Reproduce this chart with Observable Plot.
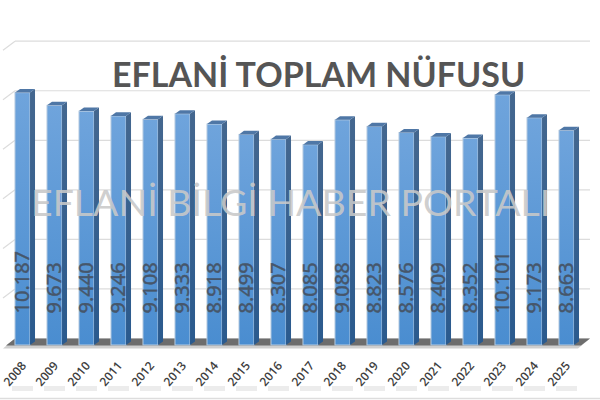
<!DOCTYPE html>
<html>
<head>
<meta charset="utf-8">
<script src="https://cdn.jsdelivr.net/npm/d3@7"></script>
<script src="https://cdn.jsdelivr.net/npm/@observablehq/plot@0.6"></script>
<style>
html,body{margin:0;padding:0;background:#fff}
svg{display:block}
</style>
</head>
<body>
<div id="chart"></div>
<script>
const years = ["2008","2009","2010","2011","2012","2013","2014","2015","2016","2017","2018","2019","2020","2021","2022","2023","2024","2025"];
const population = [10187,9673,9440,9246,9108,9333,8918,8499,8307,8085,9088,8823,8576,8409,8352,10101,9173,8663];
const gridValues = [2000,4000,6000,8000,10000,12000];
const titleText = "EFLANİ TOPLAM NÜFUSU";
const watermarkText = "EFLANİ BİLGİ HABER PORTALI";

const rows = years.map((year, i) => ({year, value: population[i]}));
const fmt = v => d3.format(",")(v).replace(",", ".");
const ns = "http://www.w3.org/2000/svg";

function poly(parent, pts, fill) {
  const p = document.createElementNS(ns, "polygon");
  p.setAttribute("points", pts.map(d => d.join(",")).join(" "));
  p.setAttribute("fill", fill);
  p.setAttribute("stroke", "none");
  parent.appendChild(p);
}

// depth faces of each bar, derived from the rects Plot drew
function render3d(index, scales, values, dimensions, context, next) {
  const g = next(index, scales, values, dimensions, context);
  const dx = 5, dy = -3.6;
  g.querySelectorAll("rect").forEach(r => {
    const x = +r.getAttribute("x"), y = +r.getAttribute("y"),
          w = +r.getAttribute("width"), h = +r.getAttribute("height");
    poly(g, [[x + w, y], [x + w + dx, y + dy], [x + w + dx, y + h + dy], [x + w, y + h]], "url(#sideGrad)");
    poly(g, [[x, y], [x + dx, y + dy], [x + w + dx, y + dy], [x + w, y]], "#4f77a6");
  });
  return g;
}

// back-wall lines with their short diagonal on the left side wall
function renderGrid(index, scales, values, dimensions, context, next) {
  const g = next(index, scales, values, dimensions, context);
  g.querySelectorAll("line").forEach(l => {
    const x = +l.getAttribute("x1"), y = +l.getAttribute("y1");
    const d = document.createElementNS(ns, "line");
    d.setAttribute("x1", x); d.setAttribute("y1", y);
    d.setAttribute("x2", x - 12); d.setAttribute("y2", y + 9);
    g.appendChild(d);
  });
  return g;
}

// floor plane, hung off the zero rule
function renderFloor(index, scales, values, dimensions, context, next) {
  const g = next(index, scales, values, dimensions, context);
  const l = g.querySelector("line");
  const x1 = +l.getAttribute("x1"), x2 = +l.getAttribute("x2"), y = +l.getAttribute("y1");
  l.remove();
  poly(g, [[x1 + 12, y - 7], [x2 + 12, y - 7], [x2, y + 3], [x1, y + 3]], "#cfcfcf");
  poly(g, [[x1 + 12, y - 7], [x2 + 12, y - 7], [x2 + 3, y], [x1 + 3, y]], "#6d6d6d");
  return g;
}

const defs = () => {
  const d = d3.create("svg:defs");
  const grad = (id, top, bottom) => {
    const lg = d.append("linearGradient").attr("id", id).attr("x1", 0).attr("y1", 0).attr("x2", 0).attr("y2", 1);
    lg.append("stop").attr("offset", "0%").attr("stop-color", top);
    lg.append("stop").attr("offset", "100%").attr("stop-color", bottom);
  };
  grad("barGrad", "#6fa4dc", "#4a8dd0");
  grad("sideGrad", "#44678f", "#2a5a8e");
  d.append("filter").attr("id", "soft").attr("x", "-10%").attr("y", "-300%").attr("width", "120%").attr("height", "700%")
    .append("feGaussianBlur").attr("stdDeviation", 1.8);
  d.append("filter").attr("id", "softer").append("feGaussianBlur").attr("stdDeviation", 0.35);
  return d.node();
};

const chart = Plot.plot({
  width: 600,
  height: 400,
  marginLeft: 6.5,
  marginRight: 17.5,
  marginTop: 47.7,
  marginBottom: 55,
  style: {background: "#fff", overflow: "visible"},
  x: {type: "band", domain: years, paddingInner: 0.53, paddingOuter: 0.265, align: 0.5, round: false, axis: null},
  y: {domain: [0, 12000], axis: null},
  marks: [
    defs,
    Plot.ruleY(gridValues, {
      stroke: "#dcdcdc", strokeWidth: 1.2, dy: -7,
      insetLeft: 8.5, insetRight: -7.5, render: renderGrid
    }),
    Plot.ruleY([0], {render: renderFloor, insetLeft: -3.5, insetRight: 4.5}),
    Plot.barY(rows, {
      x: "year", y: "value", fill: "url(#barGrad)",
      stroke: "#b7cbe0", strokeWidth: 1, render: render3d
    }),
    Plot.text(rows, {
      x: "year", y: () => 0, text: d => fmt(d.value), rotate: -90, textAnchor: "start",
      dy: -32, fill: "#46566a", stroke: "#46566a", strokeWidth: 0.4, fontSize: 20, fontFamily: "Noto Sans",
      style: {filter: "url(#softer)"}
    }),
    Plot.tickY(years, {
      x: d => d, y: () => 0, dy: 43, stroke: "#ececec", strokeWidth: 5,
      insetLeft: -3, insetRight: -3, style: {filter: "url(#soft)"}
    }),
    Plot.text(years, {
      x: d => d, y: () => 0, text: d => d, rotate: -50, textAnchor: "end", lineAnchor: "middle",
      dx: 1, dy: 18, fontSize: 12, fontWeight: 600, fontFamily: "Open Sans", fill: "#404040"
    }),
    Plot.ruleY([0], {dy: 53, stroke: "#dddddd", strokeWidth: 1.5, insetLeft: -7, insetRight: -18}),
    Plot.text([titleText], {
      frameAnchor: "top-left", textAnchor: "start", lineAnchor: "bottom", dx: 105, dy: 38.5,
      fontSize: 34, fontWeight: 700, fontFamily: "Lato", fill: "#555555",
      style: {filter: "url(#softer)"}
    }),
    Plot.text([watermarkText], {
      frameAnchor: "top-left", textAnchor: "start", lineAnchor: "bottom", dx: 24, dy: 168,
      fontSize: 37.5, fontWeight: 400, fontFamily: "Lato", fill: "#c9c9c9", fillOpacity: 0.9,
      style: {filter: "url(#softer)"}
    })
  ]
});
document.getElementById("chart").appendChild(chart);
</script>
</body>
</html>
